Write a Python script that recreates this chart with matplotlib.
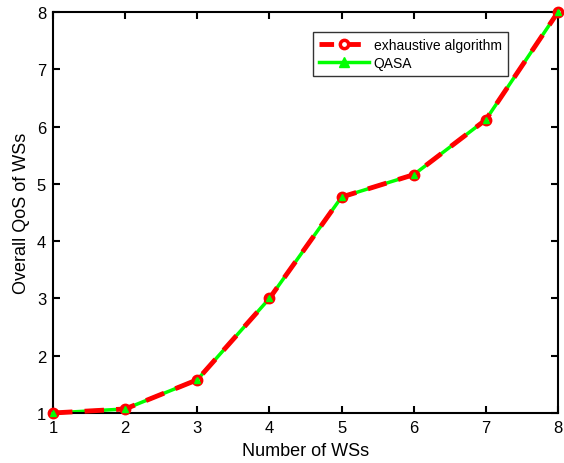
import numpy as np
import matplotlib.pyplot as plt

plt.rcParams['font.family'] = ['Liberation Sans', 'DejaVu Sans']

n_ws = [1, 2, 3, 4, 5, 6, 7, 8]
qos_exhaustive = [1.0, 1.07, 1.58, 3.0, 4.77, 5.16, 6.12, 8.0]
qos_qasa = [1.0, 1.07, 1.58, 3.0, 4.77, 5.16, 6.12, 8.0]

fts = 12
fig = plt.figure(figsize=(5.64, 4.64), dpi=100)
ax = fig.add_axes([0.094, 0.1078, 0.8954, 0.8642])

# lines
ax.plot(n_ws, qos_qasa, '-', color='#00ff00', lw=2.5, zorder=2)
ax.plot(n_ws, qos_exhaustive, '--', color='#ff0000', lw=3.5, dashes=(4, 2.5), zorder=3)
# markers (green drawn over red, as in the original)
ax.plot(n_ws, qos_exhaustive, 'o', ms=6, mfc='none', mec='#ff0000', mew=2.5, zorder=4)
ax.plot(n_ws, qos_qasa, '^', ms=4, mfc='#00ff00', mec='#00ff00', mew=1, zorder=5)

# legend proxies
h1, = ax.plot([], [], '--', color='#ff0000', lw=3.5, dashes=(3, 2.5), marker='o', ms=6,
              mfc='white', mec='#ff0000', mew=2.5)
h2, = ax.plot([], [], '-', color='#00ff00', lw=2.5, marker='^', ms=7,
              mfc='#00ff00', mec='#00ff00')
leg = ax.legend([h1, h2], ['exhaustive algorithm', 'QASA'], loc='upper left',
                bbox_to_anchor=(0.515, 0.95), borderaxespad=0, fontsize=10,
                frameon=True, fancybox=False, edgecolor='black', handlelength=3.6,
                borderpad=0.45, labelspacing=0.25, handletextpad=0.3)
leg.get_frame().set_linewidth(1.0)

ax.set_xlim(1, 8)
ax.set_ylim(1, 8)
ax.set_xticks(np.arange(1, 9))
ax.set_yticks(np.arange(1, 9))
ax.tick_params(direction='in', top=True, right=True, labelsize=fts, length=5, width=1.5, pad=5)
for s in ax.spines.values():
    s.set_linewidth(1.5)
ax.set_xlabel('Number of WSs', fontsize=fts + 1, labelpad=5)
ax.set_ylabel('Overall QoS of WSs', fontsize=fts + 1, labelpad=5)

for t in ax.get_lines():
    t.set_clip_on(False)

fig.savefig('out.png', dpi=100)
